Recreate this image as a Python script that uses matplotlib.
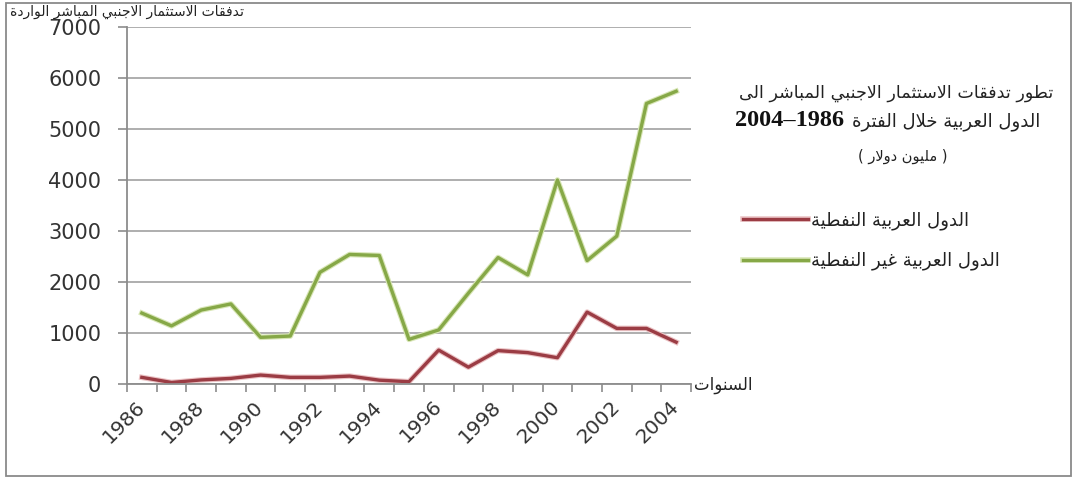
import matplotlib
matplotlib.use('Agg')
import numpy as np
import matplotlib.pyplot as plt
import matplotlib.patheffects as pe
from matplotlib.patches import Rectangle

# 데이터 (million USD)
years = list(range(1986, 2005))
oil = [130, 30, 80, 110, 175, 130, 130, 155, 75, 45, 665, 330, 655, 615, 515, 1410, 1090, 1090, 820]
non_oil = [1390, 1140, 1450, 1570, 915, 940, 2190, 2540, 2520, 875, 1060, 1780, 2480, 2140, 4000, 2420, 2900, 5500, 5740]
yticks = list(range(0, 7001, 1000))
year_labels = [str(y) for y in years[::2]]

y_title = 'تدفقات الاستثمار الاجنبي المباشر الواردة'
x_title = 'السنوات'
title_1 = 'تطور تدفقات الاستثمار الاجنبي المباشر الى'
title_2 = 'الدول العربية خلال الفترة'
title_period = '2004–1986'
title_3 = 'مليون دولار'
label_oil = 'الدول العربية النفطية'
label_non_oil = 'الدول العربية غير النفطية'

# 아랍어 글자 모양 변환 (presentation forms) + 오른쪽->왼쪽 순서
DUAL = {'ب': 0xFE8F, 'ت': 0xFE95, 'ث': 0xFE99, 'ج': 0xFE9D, 'ح': 0xFEA1, 'خ': 0xFEA5,
        'س': 0xFEB1, 'ش': 0xFEB5, 'ص': 0xFEB9, 'ض': 0xFEBD, 'ط': 0xFEC1, 'ظ': 0xFEC5,
        'ع': 0xFEC9, 'غ': 0xFECD, 'ف': 0xFED1, 'ق': 0xFED5, 'ك': 0xFED9, 'ل': 0xFEDD,
        'م': 0xFEE1, 'ن': 0xFEE5, 'ه': 0xFEE9, 'ي': 0xFEF1}
RIGHT = {'ا': 0xFE8D, 'د': 0xFEA9, 'ذ': 0xFEAB, 'ر': 0xFEAD, 'ز': 0xFEAF, 'و': 0xFEED,
         'ة': 0xFE93, 'ى': 0xFEEF, 'LA': 0xFEFB}


def ar(s):
    toks = []
    i = 0
    while i < len(s):
        if s[i] == 'ل' and i + 1 < len(s) and s[i + 1] == 'ا':
            toks.append('LA')
            i += 2
        else:
            toks.append(s[i])
            i += 1
    out = []
    for k, t in enumerate(toks):
        prev = toks[k - 1] if k > 0 else None
        nxt = toks[k + 1] if k + 1 < len(toks) else None
        jp = prev in DUAL
        if t in DUAL:
            jn = nxt in DUAL or nxt in RIGHT
            base = DUAL[t]
            off = {(False, False): 0, (True, False): 1, (False, True): 2, (True, True): 3}[(jp, jn)]
            out.append(chr(base + off))
        elif t in RIGHT:
            out.append(chr(RIGHT[t] + (1 if jp else 0)))
        else:
            out.append(t)
    return ''.join(out[::-1])


W, H = 1075, 479
fig = plt.figure(figsize=(W / 100, H / 100), dpi=100)
ax = fig.add_axes([127 / W, 1 - 384 / H, (691 - 127) / W, (384 - 27) / H])

x = np.arange(len(years))
ax.plot(x, oil, color='#9b3c44', lw=2.4, label=ar(label_oil),
        path_effects=[pe.Stroke(linewidth=4.0, foreground='#ebc3c5'), pe.Normal()])
ax.plot(x, non_oil, color='#86a847', lw=2.4, label=ar(label_non_oil),
        path_effects=[pe.Stroke(linewidth=4.0, foreground='#d8e6b6'), pe.Normal()])

ax.set_xlim(-0.5, len(years) - 0.5)
ax.set_ylim(0, 7000)
ax.set_yticks(yticks)
ax.set_yticklabels([str(v) for v in yticks])
ax.yaxis.grid(True, color='#a8a8a8', lw=1.3)
ax.set_axisbelow(True)

for s in ['top', 'right']:
    ax.spines[s].set_visible(False)
for s in ['left', 'bottom']:
    ax.spines[s].set_color('#8c8c8c')
    ax.spines[s].set_linewidth(1.3)

ax.set_xticks(x[::2])
ax.set_xticklabels(year_labels, rotation=45, ha='right', va='center', rotation_mode='anchor')
ax.set_xticks(np.arange(-0.5, len(years)), minor=True)
ax.tick_params(axis='x', which='major', length=0, pad=14, labelsize=14.5, labelcolor='#333333')
ax.tick_params(axis='x', which='minor', length=6, width=1.2, color='#8c8c8c')
ax.tick_params(axis='y', length=6.5, width=1.2, color='#8c8c8c', pad=12,
               labelsize=15, labelcolor='#333333')

# 제목, 축 이름
fig.text(10 / W, 1 - 12 / H, ar(y_title), ha='left', va='center', size=10, color='#222222')
fig.text(694 / W, 1 - 385 / H, ar(x_title), ha='left', va='center', size=12, color='#222222')

fig.text(896 / W, 1 - 93 / H, ar(title_1), ha='center', va='center', size=12.6, color='#222222')
fig.text(903 / W, 1 - 156 / H, '( ' + ar(title_3) + ' )', ha='center', va='center',
         size=10.5, color='#222222')

# 두번째 줄: 아랍어 + 굵은 기간 표시
fig.canvas.draw()
r = fig.canvas.get_renderer()
t_ar = fig.text(0, 1 - 122 / H, ar(title_2), ha='left', va='center', size=13, color='#222222')
t_num = fig.text(0, 1 - 121 / H, title_period, ha='left', va='center', size=17.5,
                 fontweight='bold', family=['Liberation Serif', 'DejaVu Sans'], color='#111111')
w_ar = t_ar.get_window_extent(r).width
w_num = t_num.get_window_extent(r).width
gap = 8
left = 888 - (w_ar + w_num + gap) / 2
t_num.set_x(left / W)
t_ar.set_x((left + w_num + gap) / W)

fig.legend(loc='center left', bbox_to_anchor=(743 / W, 1 - 241 / H), frameon=False,
           handlelength=3.6, handletextpad=0.15, labelspacing=1.2, fontsize=13,
           borderpad=0, borderaxespad=0, labelcolor='#222222')

# 바깥 테두리
fig.add_artist(Rectangle((6 / W, 3 / H), (1071 - 6) / W, (476 - 3) / H, transform=fig.transFigure,
                         fill=False, edgecolor='#8a8a8a', lw=1.3))

fig.savefig('out.png', dpi=100)
